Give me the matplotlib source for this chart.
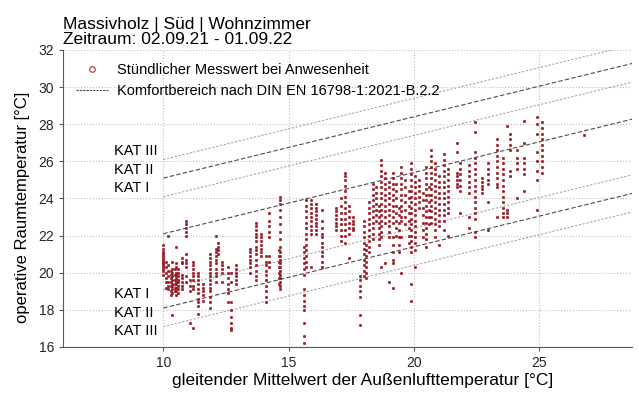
import matplotlib
matplotlib.use("Agg")
import matplotlib.pyplot as plt
from matplotlib.lines import Line2D

plt.rcParams['font.family'] = ['Liberation Sans', 'DejaVu Sans']

# Stündliche Messwerte, nach Tagen gruppiert: (gleitender Mittelwert, [Raumtemperaturen])
tage_10_14 = [
    (10.0, [21.5, 21.3, 21.1, 21.0, 20.9, 20.8, 20.7, 20.6, 20.5, 20.4, 20.3, 20.2, 20.1, 19.9]),
    (10.1, [20.6, 20.3, 20.0, 19.7, 19.5, 19.2]),
    (10.2, [22.0, 20.4, 20.1, 19.8, 19.5, 19.3, 19.1]),
    (10.3, [20.1, 19.9, 19.7, 19.5, 19.3, 19.0, 18.8]),
    (10.35, [20.6, 20.2, 20.0, 19.8, 19.6, 19.4, 19.3, 19.1, 18.9, 17.7]),
    (10.45, [20.2, 19.9, 19.6, 19.4, 19.2, 19.0]),
    (10.5, [21.4, 20.5, 20.3, 20.0, 19.9, 19.7, 19.5, 19.4, 19.2, 19.0, 18.8]),
    (10.6, [20.2, 20.0, 19.8, 19.6, 19.5, 19.3, 19.1, 18.9]),
    (10.75, [20.8, 20.6, 20.5, 19.9, 19.7, 19.5, 19.3, 19.1]),
    (10.9, [22.8, 22.6, 22.4, 22.2, 22.0, 21.0, 20.7, 20.5, 20.3, 19.8, 19.5]),
    (11.05, [19.6, 19.3, 19.0, 17.3]),
    (11.2, [20.6, 20.4, 20.2, 20.0, 19.8, 19.6, 19.3, 19.1, 17.0]),
    (11.4, [20.0, 19.8, 19.6, 19.4, 19.1, 18.9, 18.6, 18.4, 18.2, 17.8]),
    (11.6, [19.4, 19.2, 19.0, 18.8, 18.5]),
    (11.85, [21.0, 20.8, 20.6, 20.4, 20.2, 20.0, 19.8, 19.6, 19.4, 19.2, 19.0, 18.7, 18.4, 18.1]),
    (12.1, [22.0, 21.3, 21.1, 20.9, 20.7, 20.5, 20.2, 20.0, 19.8, 19.5]),
    (12.2, [21.6, 21.4, 21.2, 21.0]),
    (12.35, [20.6, 20.4, 20.2, 20.0, 19.5]),
    (12.6, [20.3, 20.0, 19.7, 19.4, 19.1, 18.9, 18.4]),
    (12.7, [20.0, 19.5, 18.4, 18.0, 17.6, 17.3, 17.0, 16.9]),
    (12.9, [20.4, 20.2, 20.0, 19.8, 19.6, 19.4]),
    (13.45, [21.3, 21.1, 20.9, 20.7, 20.5, 20.3, 20.0]),
    (13.7, [22.7, 22.5, 22.3, 22.1, 21.9, 21.7, 21.4, 21.2, 21.0, 20.7, 20.4, 20.1, 19.8, 19.6]),
    (13.9, [22.1, 21.9, 21.7, 21.5, 21.3, 21.1, 20.9]),
]

tage_14_18 = [
    (14.1, [20.9, 20.6, 20.4, 20.1, 19.9, 19.6, 19.3, 19.0, 18.7, 18.4]),
    (14.2, [23.2, 22.8, 22.5, 22.2, 21.9, 20.9, 20.6, 20.3]),
    (14.6, [21.2, 20.9, 20.6, 20.3, 20.0, 19.7, 19.4]),
    (14.65, [24.1, 23.9, 23.7, 23.4, 23.0, 22.6, 22.2, 21.8, 21.4, 21.1, 20.9, 20.7,
             20.5, 20.3, 20.1, 19.9, 19.7, 19.5, 19.3, 19.1]),
    (15.6, [21.4, 21.1, 20.8, 20.5, 20.2, 19.9, 19.1, 18.8, 18.5, 18.2, 18.0, 17.3, 16.6, 16.2]),
    (15.7, [23.9, 23.6, 23.3, 23.0, 22.7, 22.4, 22.1, 21.8, 21.5, 21.2, 20.9, 20.6, 20.3]),
    (15.9, [23.9, 23.7, 23.5, 23.2, 23.0, 22.8, 22.5, 22.3, 22.1, 20.3]),
    (16.1, [23.7, 23.5, 23.3, 23.1, 22.9, 22.7, 22.5, 22.3, 22.1]),
    (16.35, [23.4, 22.8, 22.4, 22.1, 21.9, 21.6, 21.4, 21.1, 20.9, 20.6, 20.3]),
    (16.9, [23.5, 23.3, 23.1, 22.9, 22.7, 22.5, 22.3]),
    (17.1, [24.0, 23.6, 23.2, 22.9, 22.6, 22.3, 22.0, 21.7]),
    (17.25, [25.4, 25.2, 25.0, 24.7, 24.4, 24.1, 23.8, 23.5, 23.2, 22.9, 22.6, 22.3, 22.0, 21.6]),
    (17.4, [23.6, 23.3, 23.0, 22.7, 22.4, 22.1, 20.8]),
    (17.55, [23.0, 22.8, 22.6, 22.4, 22.3]),
    (17.85, [19.8, 19.6, 19.3, 19.0, 18.7, 17.7, 17.2]),
]

tage_18_21 = [
    (18.0, [22.8, 22.5, 22.2, 21.9, 21.6, 21.3, 21.0, 20.7, 20.4, 20.1, 19.8]),
    (18.1, [21.5, 21.2, 20.9, 20.6, 20.3, 20.0, 19.7]),
    (18.2, [23.8, 23.5, 23.2, 22.9, 22.6, 22.3, 22.0, 21.7, 21.4, 21.1]),
    (18.35, [24.8, 24.5, 24.2, 23.9, 23.6, 23.3, 23.0, 22.7, 22.4, 22.1, 21.8]),
    (18.5, [24.6, 24.3, 24.0, 23.7, 23.4, 23.1, 22.8]),
    (18.6, [23.6, 23.3, 23.0, 22.7, 22.4, 22.1, 21.8, 21.5]),
    (18.7, [26.1, 25.8, 25.5, 25.2, 24.9, 24.6, 24.3, 24.0, 23.7, 23.4, 23.1, 22.8, 22.5,
            22.2, 21.9, 20.3]),
    (18.85, [25.4, 25.1, 24.8, 24.5, 24.2, 23.9, 23.6, 23.3, 23.0, 22.7, 20.5]),
    (19.0, [24.9, 24.6, 24.3, 24.0, 23.7, 23.4, 23.1, 22.8, 22.5, 22.2, 21.9, 19.5]),
    (19.15, [25.4, 25.1, 24.8, 24.5, 24.2, 23.9, 23.6, 23.3, 23.0, 22.7, 21.9, 21.5, 21.1,
             20.7, 20.5, 19.2]),
    (19.3, [24.8, 24.4, 24.0, 23.6, 23.2, 22.8, 22.4, 22.0]),
    (19.4, [23.5, 23.1, 22.7, 22.3, 21.9, 21.5, 21.1]),
    (19.5, [25.7, 25.4, 25.1, 24.8, 24.5, 24.2, 23.9, 23.6, 23.3, 23.0, 22.8, 21.9, 20.0]),
    (19.65, [25.0, 24.6, 24.2, 23.8, 23.4, 23.0, 22.6]),
    (19.8, [24.4, 24.0, 23.6, 23.2, 22.8, 22.4, 22.0, 21.6]),
    (19.9, [25.9, 25.6, 25.3, 25.0, 24.7, 24.4, 24.1, 23.8, 23.5, 23.2, 22.9, 22.6, 22.3,
            22.0, 21.7, 21.4, 21.1, 19.4, 18.5]),
    (20.05, [25.2, 24.9, 24.6, 24.3, 24.0, 23.7, 23.4, 23.1, 22.8, 22.5, 22.2, 21.9, 21.6,
             21.2, 20.3]),
    (20.2, [25.0, 24.7, 24.4, 24.1, 23.8, 23.5]),
    (20.35, [24.3, 23.9, 23.5, 23.1, 22.7, 22.3, 21.9]),
    (20.5, [25.7, 25.4, 25.1, 24.8, 24.5, 24.2, 23.9, 23.6, 23.3, 23.0, 22.7, 22.4, 22.1,
            21.8, 21.4]),
    (20.6, [24.6, 24.2, 23.8, 23.4, 23.0, 22.6]),
    (20.7, [26.6, 26.3, 26.0, 25.7, 25.4, 25.1, 24.8, 24.5, 24.2, 23.9, 23.6, 23.3, 23.0, 22.7]),
    (20.85, [25.9, 25.6, 25.3, 25.0, 24.7, 24.4, 24.1, 23.8, 23.5, 23.2, 22.9, 22.6, 22.3, 21.9]),
]

tage_21_27 = [
    (21.0, [25.2, 24.9, 24.6, 24.3, 24.0, 23.7, 23.4, 23.1, 22.8, 22.5, 21.5]),
    (21.2, [26.4, 26.1, 25.8, 25.5, 25.2, 24.9, 24.6, 24.3, 24.0, 23.7, 23.4, 23.1, 22.8, 22.3]),
    (21.35, [25.6, 25.3, 25.0, 24.7, 24.4, 24.1, 23.8, 23.5, 23.2, 22.0]),
    (21.7, [27.0, 26.5, 25.4, 25.2, 25.0, 24.8, 24.6]),
    (21.85, [25.9, 25.6, 25.3, 25.0, 24.7, 24.4, 23.2]),
    (22.2, [25.8, 25.5, 25.2, 24.9, 24.6, 24.3, 23.0, 22.4]),
    (22.45, [28.1, 27.6, 26.5, 26.2, 25.9, 25.6, 25.3, 25.0, 24.7, 24.4, 24.1, 23.8, 23.5,
             23.2, 22.9, 22.2, 21.9]),
    (22.7, [25.1, 24.9, 24.7, 24.5, 24.3]),
    (22.95, [25.9, 25.6, 25.3, 25.0, 24.8, 23.8, 22.3]),
    (23.3, [27.2, 26.9, 26.6, 26.3, 26.0, 25.7, 25.4, 25.1, 24.8, 24.6, 23.0]),
    (23.55, [26.2, 25.9, 25.6, 25.3, 25.0, 24.7, 24.4, 24.1, 23.8, 23.5, 23.2, 23.0]),
    (23.7, [27.9, 23.4, 23.2, 23.0]),
    (23.85, [27.5, 27.2, 26.9, 26.6, 25.5, 25.2]),
    (24.1, [26.6, 26.2, 25.9, 25.6, 24.0]),
    (24.4, [28.2, 27.0, 26.2, 25.9, 25.6, 25.3, 24.4]),
    (24.9, [28.4, 28.0, 27.5, 26.5, 26.0, 25.5, 25.0, 23.4]),
    (25.1, [28.1, 27.8, 27.5, 27.2, 26.9, 26.6, 26.3, 26.0, 25.7, 25.4]),
    (26.8, [27.4]),
]

# DIN EN 16798-1 adaptives Modell: Komforttemperatur 0.33*Trm + 18.8, Grenzen je Kategorie
komfort_x = [10, 30]
kat_oben = [('KAT I', 2), ('KAT II', 3), ('KAT III', 4)]
kat_unten = [('KAT I', -3), ('KAT II', -4), ('KAT III', -5)]

xs, ys = [], []
for gruppe in (tage_10_14, tage_14_18, tage_18_21, tage_21_27):
    for x, werte in gruppe:
        for y in werte:
            xs.append(x)
            ys.append(y)

rot = '#9a1a26'

fig = plt.figure(figsize=(6.39, 3.94), dpi=100)
ax = fig.add_axes([0.0986, 0.1193, 0.8904, 0.7538])

ax.plot(xs, ys, ls='none', marker='o', ms=1.8, mfc=rot, mec=rot, mew=0.4, zorder=3)


def komfort(x, off):
    return 0.33 * x + 18.8 + off


dunkel = dict(color='0.3', lw=0.8, ls=(0, (4, 2)))
hell = dict(color='0.65', lw=0.8, ls=(0, (2, 1.5)))

ax.plot(komfort_x, [komfort(x, 0) for x in komfort_x], zorder=2, **dunkel)
for name, off in kat_oben + kat_unten:
    stil = dunkel if name == 'KAT II' else hell
    ax.plot(komfort_x, [komfort(x, off) for x in komfort_x], zorder=2, **stil)
    y0 = komfort(10, off)
    ax.text(8.05, y0 + 0.45 if off > 0 else y0 - 0.25, name, fontsize=10.5, va='center', ha='left')

ax.set_xlim(6.0, 28.7)
ax.set_ylim(16, 32)
ax.set_xticks([10, 15, 20, 25])
ax.set_yticks(range(16, 33, 2))
ax.grid(True, ls=':', color='0.75', lw=0.8)
ax.set_axisbelow(True)
for s in ('top', 'right'):
    ax.spines[s].set_visible(False)
ax.spines['left'].set_color('0.35')
ax.spines['bottom'].set_color('0.35')
ax.tick_params(labelsize=10, colors='0.35', labelcolor='0.15', length=3)

ax.set_xlabel('gleitender Mittelwert der Außenlufttemperatur [°C]', fontsize=12.5)
ax.set_ylabel('operative Raumtemperatur [°C]', fontsize=12)
ax.xaxis.set_label_coords(0.527, -0.088)
ax.yaxis.set_label_coords(-0.058, 0.47)
ax.set_title('Massivholz | Süd | Wohnzimmer\nZeitraum: 02.09.21 - 01.09.22', loc='left',
             fontsize=12.5, pad=4, linespacing=1.0)

handles = [
    Line2D([], [], ls='none', marker='o', ms=4, mfc='none', mec='#c0404e', mew=0.9),
    Line2D([], [], color='0.3', lw=0.8, ls=(0, (2, 1))),
]
labels = ['Stündlicher Messwert bei Anwesenheit', 'Komfortbereich nach DIN EN 16798-1:2021-B.2.2']
ax.legend(handles, labels, loc='upper left', frameon=False, fontsize=10.5,
          borderaxespad=0.5, handletextpad=0.6, handlelength=2.2)

fig.savefig('out.png', dpi=100)
